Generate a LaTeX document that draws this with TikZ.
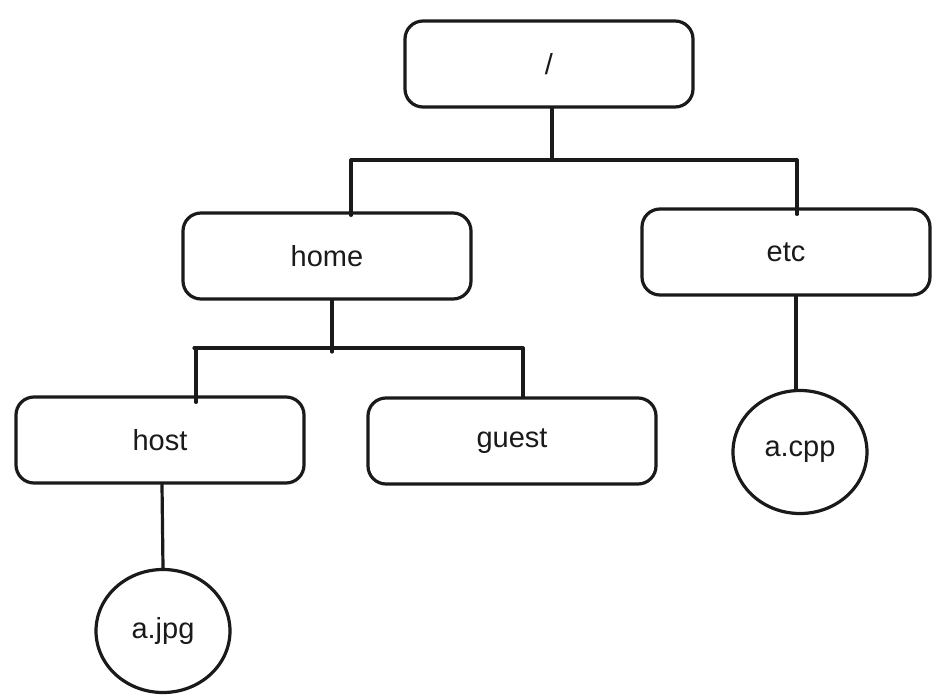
\documentclass[tikz,border=0pt]{standalone}
\usepackage{fontspec}
\setmainfont{Liberation Sans}
\usetikzlibrary{positioning,shapes.geometric}
\definecolor{ink}{HTML}{1A1A1A}
\tikzset{
  box/.style={draw=ink,line width=3.2pt,rounded corners=18pt,fill=white,minimum width=288pt,minimum height=86pt,inner sep=0pt,align=center,font=\fontsize{29}{32}\selectfont,text=ink},
  leaf/.style={ellipse,draw=ink,line width=3.2pt,fill=white,minimum width=134pt,minimum height=123pt,inner sep=0pt,font=\fontsize{29}{32}\selectfont,text=ink},
  ln/.style={draw=ink,line width=3.2pt,line cap=round},
}
\begin{document}
\begin{tikzpicture}[x=1pt,y=-1pt]
  \useasboundingbox (0,0) rectangle (938,696);
  \node[box] (root) at (549,64) {/};
  \node[box] (home) at (327,256) {home}; \node[box] (etc) at (786,252) {etc};
  \node[box] (host) at (160,440) {host}; \node[box] (guest) at (512,441) {guest};
  \node[leaf] (acpp) at (800,452) {a.cpp};
  \node[leaf] (ajpg) at (163,631) {a.jpg};

  % bars
  \coordinate (rbl) at (351,160); \coordinate (rbr) at (797,160);
  \coordinate (hbl) at (194,348); \coordinate (hbr) at (523,348);
  \draw[ln] ([xshift=3pt]root.south) -- ([xshift=3pt]root.south |- rbl);
  \draw[ln] (rbl) -- (rbr);
  \draw[ln] (rbl) -- ([yshift=-4pt]rbl |- home.north);
  \draw[ln] (rbr) -- ([yshift=-7pt]rbr |- etc.north);
  \draw[ln] ([xshift=5pt]home.south) -- ([xshift=5pt,yshift=-4pt]home.south |- hbl);
  \draw[ln] (hbl) -- (hbr);
  \draw[ln] ([xshift=2pt]hbl) -- ([xshift=2pt,yshift=-7pt]hbl |- host.north);
  \draw[ln] (hbr) -- (hbr |- guest.north);
  \draw[ln] ([xshift=10pt]etc.south) -- ([xshift=-4pt]acpp.north);
  \draw[ln] ([xshift=2pt]host.south) -- (ajpg.north);
\end{tikzpicture}
\end{document}
